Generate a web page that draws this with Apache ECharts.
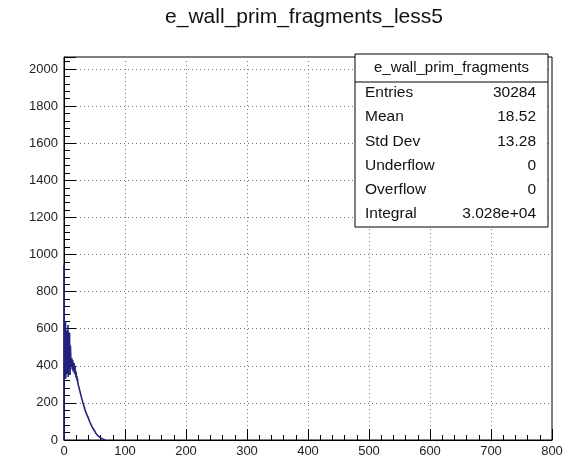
<!DOCTYPE html>
<html>
<head>
<meta charset="utf-8">
<script src="https://cdn.jsdelivr.net/npm/echarts@6/dist/echarts.min.js"></script>
<style>
  html, body { margin: 0; padding: 0; background: #fff; }
  #chart { width: 567px; height: 459px; }
</style>
</head>
<body>
<div id="chart"></div>
<script>
// Histogram of e_wall_prim_fragments_less5, bin width 0.5
const histTitle = 'e_wall_prim_fragments_less5';
const binWidth = 0.5;
const binCounts = [
  945,
  520, 610, 380, 470, 640, 330, 560, 420, 590, 360, 500, 450, 620, 340, 480, 540, 390, 580, 430, 350, 510, 460, 400,
  420, 395, 440, 380, 410, 430, 370, 405, 390, 415, 360, 385, 400, 350, 375, 340, 365, 330, 345, 320, 335, 310,
  302, 296, 288, 284, 275, 270, 262, 258, 250, 244, 238, 231, 226, 219, 214, 207, 202, 196, 190, 185, 179, 174, 168, 163, 158, 154, 149, 145, 141, 137, 134, 130,
  126, 121, 117, 113, 109, 104, 100, 97, 93, 89, 85, 82, 78, 75, 71, 68, 65, 62, 59, 56, 53, 50,
  48, 45, 42, 40, 37, 35, 33, 31, 29, 27, 25, 23, 21, 20, 18, 17, 15, 14, 13, 12, 11, 10,
  9, 8, 7, 6, 6, 5, 4, 3, 3, 2, 2, 1, 1, 0
];

// Axis ranges and tick steps
const xRange = [0, 800];
const xStep = 100;
const yRange = [0, 2065];
const yStep = 200;

// Statistics box
const statsName = 'e_wall_prim_fragments';
const statsLabels = ['Entries', 'Mean', 'Std Dev', 'Underflow', 'Overflow', 'Integral'];
const statsValues = ['30284', '18.52', '13.28', '0', '0', '3.028e+04'];

// Histogram outline: left edge of every bin, closed back to zero at the end
const outline = [[0, 0]];
binCounts.forEach((c, i) => outline.push([i * binWidth, c]));
outline.push([binCounts.length * binWidth, 0]);

const font = 'Liberation Sans, Arial, sans-serif';
const gridLine = { show: true, lineStyle: { color: '#777', type: [1, 3], width: 1 } };

const chart = echarts.init(document.getElementById('chart'), null, { renderer: 'canvas' });

const statsTop = 54, statsLeft = 355, statsRight = 548, rowH = 24.2;
const statsGraphics = [
  { type: 'rect', shape: { x: statsLeft, y: statsTop, width: statsRight - statsLeft, height: 173 },
    style: { fill: '#fff', stroke: '#000', lineWidth: 1 }, z: 10 },
  { type: 'line', shape: { x1: statsLeft, y1: 82, x2: statsRight, y2: 82 },
    style: { stroke: '#000', lineWidth: 1 }, z: 11 },
  { type: 'text', x: (statsLeft + statsRight) / 2, y: 68, z: 11,
    style: { text: statsName, font: '15px ' + font, fill: '#111', align: 'center', verticalAlign: 'middle' } }
];
statsLabels.forEach((lab, i) => {
  const y = 93 + i * rowH;
  statsGraphics.push({ type: 'text', x: 365, y: y, z: 11,
    style: { text: lab, font: '15.5px ' + font, fill: '#111', align: 'left', verticalAlign: 'middle' } });
  statsGraphics.push({ type: 'text', x: 536, y: y, z: 11,
    style: { text: statsValues[i], font: '15.5px ' + font, fill: '#111', align: 'right', verticalAlign: 'middle' } });
});

chart.setOption({
  animation: false,
  backgroundColor: '#fff',
  grid: { left: 64, right: 15, top: 57, bottom: 19, show: true, borderColor: '#000', borderWidth: 1, backgroundColor: 'transparent' },
  xAxis: {
    type: 'value', min: xRange[0], max: xRange[1], interval: xStep,
    axisLine: { show: true, onZero: false, lineStyle: { color: '#000', width: 1 } },
    axisTick: { show: true, inside: true, length: 11, lineStyle: { color: '#000' } },
    minorTick: { show: true, splitNumber: 5, length: 5, lineStyle: { color: '#000' } },
    axisLabel: { color: '#222', fontFamily: font, fontSize: 13, margin: 5 },
    splitLine: gridLine
  },
  yAxis: {
    type: 'value', min: yRange[0], max: yRange[1], interval: yStep,
    axisLine: { show: true, onZero: false, lineStyle: { color: '#000', width: 1 } },
    axisTick: { show: true, inside: true, length: 12, lineStyle: { color: '#000' } },
    minorTick: { show: true, splitNumber: 5, length: 6, lineStyle: { color: '#000' } },
    axisLabel: { color: '#222', fontFamily: font, fontSize: 13, margin: 6, showMaxLabel: false,
      formatter: v => (v % yStep === 0 ? String(v) : '') },
    splitLine: gridLine
  },
  series: [{
    type: 'line', step: 'end', data: outline, showSymbol: false, symbol: 'none',
    lineStyle: { color: '#22227e', width: 1.6 }, z: 5, silent: true
  }],
  graphic: [
    { type: 'text', x: 304, y: 17, z: 11,
      style: { text: histTitle, font: '21px ' + font, fill: '#111', align: 'center', verticalAlign: 'middle' } }
  ].concat(statsGraphics)
});
</script>
</body>
</html>
